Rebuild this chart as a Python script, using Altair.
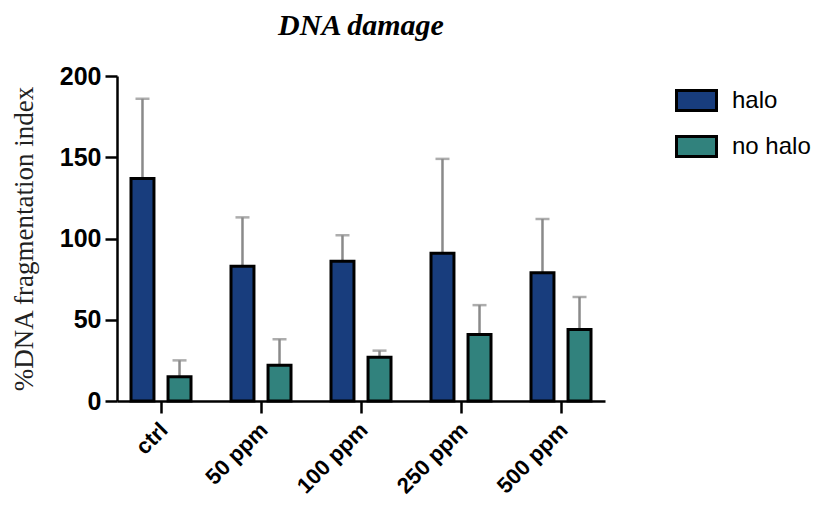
import altair as alt
import pandas as pd

categories = ["ctrl", "50 ppm", "100 ppm", "250 ppm", "500 ppm"]
groups = ["halo", "no halo"]
halo_mean = [137, 83, 86, 91, 79]
halo_upper = [186, 113, 102, 149, 112]
nohalo_mean = [15, 22, 27, 41, 44]
nohalo_upper = [25, 38, 31, 59, 64]
colors = ["#183d7d", "#31827d"]

rows = []
for i, c in enumerate(categories):
    rows.append({"cat": c, "group": "halo", "mean": halo_mean[i], "upper": halo_upper[i]})
    rows.append({"cat": c, "group": "no halo", "mean": nohalo_mean[i], "upper": nohalo_upper[i]})
df = pd.DataFrame(rows)

xscale = alt.Scale(domain=categories, paddingInner=0.2, paddingOuter=0.04)
offscale = alt.Scale(domain=groups, paddingInner=0.38, paddingOuter=0.27)
yscale = alt.Scale(domain=[0, 200], nice=False)

x_enc = alt.X("cat:N", scale=xscale, sort=categories, title=None,
              axis=alt.Axis(labelAngle=-45, labelFont="Liberation Sans", labelFontWeight="bold",
                            labelFontSize=22, labelColor="black", tickSize=12, tickWidth=2.5,
                            tickColor="black", domainColor="black", domainWidth=2.5,
                            labelPadding=6, labelOffset=-4))
y_axis = alt.Axis(values=[0, 50, 100, 150, 200], labelFont="Liberation Sans", labelFontWeight="bold",
                  labelFontSize=25, labelColor="black", tickSize=12, tickWidth=2.5, tickColor="black",
                  domainColor="black", domainWidth=2.5, labelPadding=4, grid=False,
                  title="%DNA fragmentation index", titleFont="Liberation Serif",
                  titleFontWeight="normal", titleFontSize=27, titleColor="#222", titlePadding=21)

color_enc = alt.Color("group:N", scale=alt.Scale(domain=groups, range=colors),
                      legend=alt.Legend(title=None, orient="none", legendX=558, legendY=3,
                                        symbolType="M-1,-0.5L1,-0.5L1,0.5L-1,0.5Z",
                                        symbolSize=1600, symbolStrokeColor="black",
                                        symbolStrokeWidth=3, labelFont="Liberation Sans",
                                        labelFontSize=24, labelColor="black", rowPadding=8,
                                        labelOffset=14))

base = alt.Chart(df).encode(
    x=x_enc,
    xOffset=alt.XOffset("group:N", scale=offscale, sort=groups),
)

err = base.mark_rule(color="#8a8a8a", strokeWidth=2.5).encode(
    y=alt.Y("mean:Q", scale=yscale, axis=y_axis),
    y2="upper:Q",
)
cap = base.mark_tick(color="#8a8a8a", thickness=2.5, size=14, orient="horizontal").encode(
    y=alt.Y("upper:Q", scale=yscale),
)
bars = base.mark_bar(stroke="black", strokeWidth=3).encode(
    y=alt.Y("mean:Q", scale=yscale, axis=y_axis),
    color=color_enc,
)

chart = alt.layer(err, cap, bars).properties(
    width=488, height=325,
    padding={"left": 109, "top": 68, "right": 210, "bottom": 102},
    autosize=alt.AutoSizeParams(type="none"),
    background="white",
    title=alt.TitleParams("DNA damage", font="Liberation Serif", fontSize=30, fontWeight="bold",
                          fontStyle="italic", color="black", anchor="middle", offset=23),
).configure_view(strokeWidth=0)

chart.save("out.html", embed_options={"renderer": "svg", "actions": False})
